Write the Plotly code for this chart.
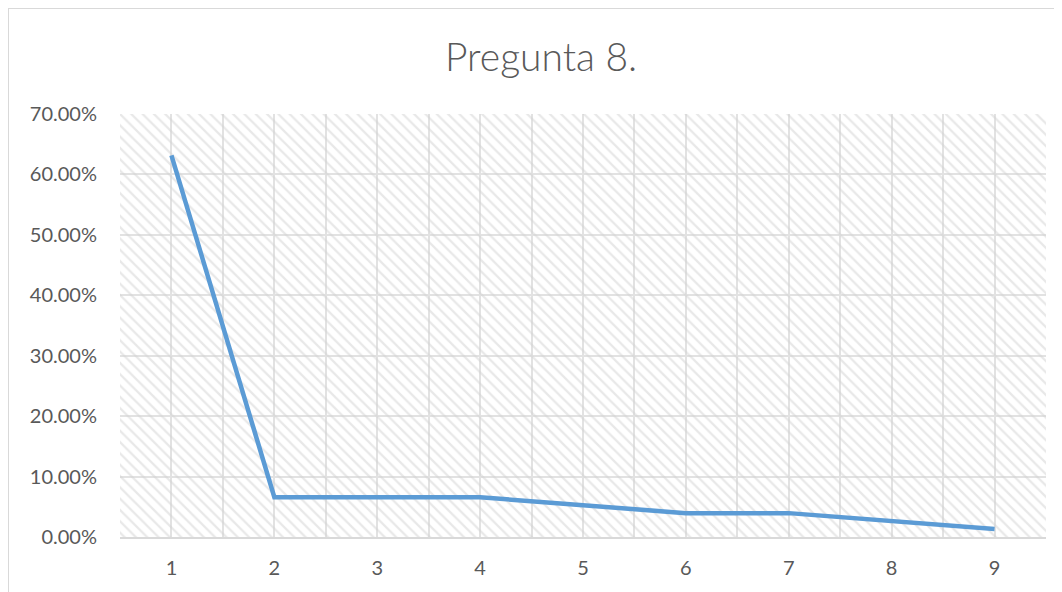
import plotly.graph_objects as go

categories = [1, 2, 3, 4, 5, 6, 7, 8, 9]
values = [0.6316, 0.0658, 0.0658, 0.0658, 0.0526, 0.0395, 0.0395, 0.0263, 0.0132]
y_ticks = [0, 0.1, 0.2, 0.3, 0.4, 0.5, 0.6, 0.7]
title_text = "Pregunta 8."

font_family = "Lato, 'Open Sans', sans-serif"
grid_color = "#e2e2e2"
border_color = "#d9d9d9"
text_color = "#595959"

x_range = [0.5, 9.5]
y_range = [0, 0.7]

fig = go.Figure()

# hatched plot-area background on the base axis pair (0..1 over the plot area)
fig.add_trace(go.Scatter(
    x=[0, 1, 1, 0, 0], y=[0, 0, 1, 1, 0],
    xaxis="x", yaxis="y",
    mode="none", fill="toself", fillcolor="rgba(0,0,0,0)",
    fillpattern=dict(shape="\\", size=8, solidity=0.28, fgcolor="#d2d2d2",
                     bgcolor="rgba(0,0,0,0)"),
    hoverinfo="skip", showlegend=False,
))

# data line on the overlay axes that carry ticks and grid
fig.add_trace(go.Scatter(
    x=categories, y=values, mode="lines",
    xaxis="x2", yaxis="y2",
    line=dict(color="#5b9bd5", width=4.5),
    showlegend=False,
))

PW, PH = 926, 423
L, T = 112, 106

fig.update_layout(
    width=1062, height=592,
    margin=dict(l=L, r=1062 - L - PW, t=T, b=592 - T - PH),
    paper_bgcolor="white", plot_bgcolor="white",
    title=dict(text=title_text, x=0.502, xanchor="center", y=0.917, yanchor="middle",
               font=dict(family=font_family, size=39, color=text_color, weight=300)),
    font=dict(family=font_family, color=text_color, size=20),
    xaxis=dict(range=[0, 1], visible=False, automargin=False, fixedrange=True),
    yaxis=dict(range=[0, 1], visible=False, automargin=False, fixedrange=True),
    xaxis2=dict(
        overlaying="x", automargin=False,
        range=x_range, tickmode="array", tickvals=categories,
        ticktext=[str(c) for c in categories],
        showgrid=True, gridcolor=grid_color, gridwidth=2,
        minor=dict(tickmode="linear", tick0=0.5, dtick=1, showgrid=True,
                   gridcolor=grid_color, gridwidth=2),
        showline=True, linecolor=border_color, linewidth=2,
        zeroline=False, ticks="", ticklabelstandoff=12,
        tickfont=dict(size=20, color=text_color),
    ),
    yaxis2=dict(
        overlaying="y", automargin=False, side="left",
        range=y_range, tickmode="array", tickvals=y_ticks,
        tickformat=".2%", showgrid=True, gridcolor=grid_color, gridwidth=2,
        zeroline=False, showline=False, ticks="", ticklabelstandoff=22,
        tickfont=dict(size=20, color=text_color),
    ),
    shapes=[dict(type="rect", xref="paper", yref="paper",
                 x0=-L / PW, x1=1.2, y0=-0.3, y1=1 + T / PH,
                 line=dict(color=border_color, width=2), fillcolor="rgba(0,0,0,0)",
                 layer="below")],
)

fig.write_html("out.html")
